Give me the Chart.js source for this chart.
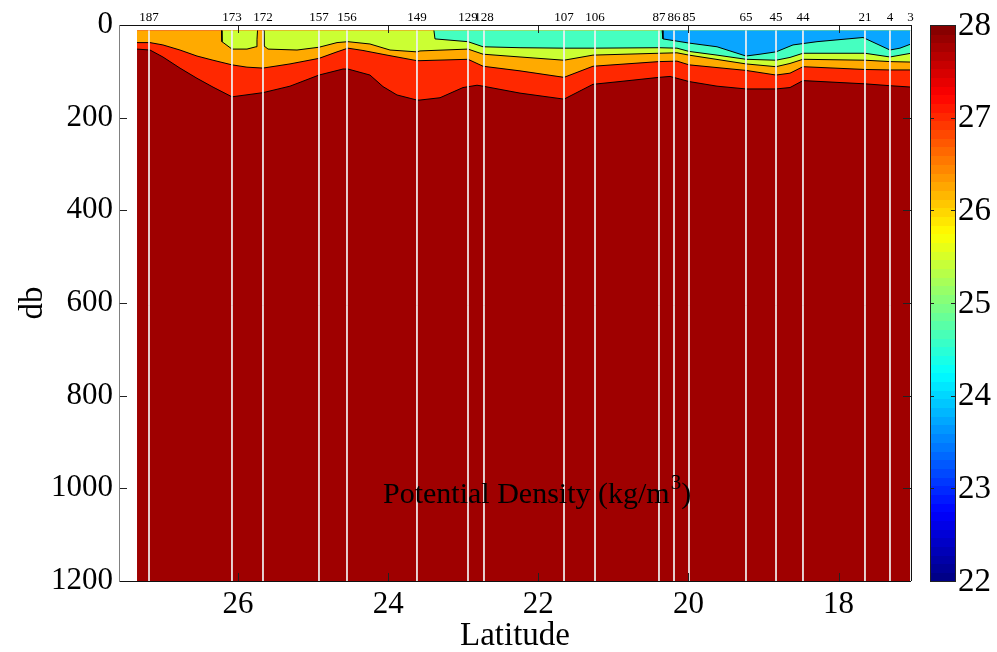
<!DOCTYPE html>
<html>
<head>
<meta charset="utf-8">
<script src="https://cdn.jsdelivr.net/npm/chart.js@4.4.1/dist/chart.umd.min.js"></script>
<style>
  body { margin: 0; background: #fff; }
  canvas { display: block; }
</style>
</head>
<body>
<canvas id="densityChart" width="997" height="652"></canvas>
<script>
// ================= DATA =================
const stationLabels = ["187", "173", "172", "157", "156", "149", "129", "128", "107", "106",
  "87", "86", "85", "65", "45", "44", "21", "4", "3"];
const stationLats = [27.185, 26.08, 25.667, 24.921, 24.548, 23.616, 22.936, 22.723, 21.657, 21.244,
  20.392, 20.192, 19.992, 19.233, 18.833, 18.474, 17.648, 17.315, 17.04];

const xTicks = [26, 24, 22, 20, 18];
const yTicks = [0, 200, 400, 600, 800, 1000, 1200];
const colorbarTicks = [22, 23, 24, 25, 26, 27, 28];

const sectionLats = [27.345, 17.035];
const surfaceDb = 12;
const bottomDb = 1200;

// upper edge of the dark red band (~27.5)
const darkRedLat = [27.345, 27.172, 27.0, 26.773, 26.546, 26.333, 26.08, 25.667, 25.307, 24.921, 24.601,
  24.535, 24.242, 24.068, 23.882, 23.616, 23.576, 23.309, 23.003, 22.816, 22.736, 22.243, 21.657, 21.271,
  20.911, 20.392, 20.245, 19.992, 19.619, 19.233, 18.833, 18.647, 18.474, 17.648, 17.315, 17.035];
const darkRedDb = [52, 54, 69, 93, 115, 134, 155, 146, 132, 108, 95,
  95, 108, 133, 151, 162, 162, 157, 135, 130, 132, 147, 160, 128,
  122, 113, 111, 122, 132, 138, 138, 135, 120, 127, 131, 134];

// upper edge of the red band (~27)
const redLat = [27.345, 27.172, 27.0, 26.773, 26.546, 26.333, 26.08, 25.88, 25.667, 25.307, 24.921, 24.681,
  24.535, 24.335, 24.015, 23.616, 23.576, 22.936, 22.736, 22.243, 21.657, 21.271, 20.392, 20.152, 19.992,
  19.233, 18.833, 18.647, 18.474, 17.648, 17.315, 17.035];
const redDb = [38, 38, 43, 54, 67, 76, 86, 91, 93, 84, 72, 58,
  50, 55, 65, 77, 77, 74, 89, 99, 113, 89, 79, 78, 86,
  98, 108, 104, 90, 96, 97, 97];

// upper edge of the orange band (~26.5)
const orangeLat = [27.345, 26.22, 26.213, 26.08, 25.88, 25.76, 25.747, 25.74, 25.66, 25.654, 25.6, 25.214,
  24.921, 24.681, 24.535, 24.242, 23.975, 23.616, 23.576, 22.936, 22.736, 22.243, 21.657, 21.271, 20.392,
  20.152, 19.992, 19.233, 18.833, 18.647, 18.474, 17.648, 17.315, 17.035];
const orangeDb = [12, 12, 36, 52, 52, 47, 32, 12, 12, 45, 52, 54,
  48, 38, 36, 41, 54, 58, 56, 52, 63, 69, 76, 65, 61,
  60, 65, 84, 90, 83, 74, 76, 79, 80];

// upper edge of the yellow-green band (~25.5)
const greenLat = [27.345, 23.39, 23.376, 22.936, 22.736, 22.243, 21.657, 21.271, 20.392, 20.152, 19.992,
  19.619, 19.233, 18.833, 18.647, 18.474, 17.648, 17.315, 17.035];
const greenDb = [12, 12, 30, 36, 47, 49, 50, 50, 49, 50, 57,
  65, 74, 76, 70, 61, 61, 69, 61];

// upper edge of the aqua band (~24.5)
const aquaLat = [27.345, 20.35, 20.339, 19.992, 19.619, 19.233, 19.046, 18.833, 18.607, 18.287, 17.674,
  17.315, 17.182, 17.035];
const aquaDb = [12, 12, 30, 39, 47, 67, 63, 58, 43, 36, 27,
  54, 50, 41];

const bandColors = ["#0aa6ff", "#45ffc0", "#cbff33", "#ffaa00", "#ff2800", "#9f0000"];

// ================= HELPERS =================
function toPoints(lats, dbs) {
  return lats.map((lat, i) => ({ x: lat, y: dbs[i] }));
}

function jet(t) {
  const c = v => Math.round(255 * Math.max(0, Math.min(1, v)));
  return `rgb(${c(1.5 - Math.abs(4 * t - 3))},${c(1.5 - Math.abs(4 * t - 2))},${c(1.5 - Math.abs(4 * t - 1))})`;
}

function stationPoints() {
  const pts = [];
  stationLats.forEach(lat => {
    pts.push({ x: lat, y: surfaceDb }, { x: lat, y: bottomDb }, { x: lat, y: null });
  });
  return pts;
}

const hideSurface = {
  borderColor: c => (c.p0.parsed.y <= surfaceDb && c.p1.parsed.y <= surfaceDb) ? "rgba(0,0,0,0)" : undefined,
};

function band(lats, dbs, color) {
  return {
    data: toPoints(lats, dbs),
    borderColor: "#000",
    borderWidth: 1,
    backgroundColor: color,
    fill: { value: surfaceDb },
    segment: hideSurface,
  };
}

// ================= DECOR =================
const decorPlugin = {
  id: "decor",
  afterDraw(chart) {
    const { ctx, chartArea: a, scales } = chart;
    const x = scales.x, y = scales.y;
    ctx.save();

    const line = (x1, y1, x2, y2) => {
      ctx.beginPath(); ctx.moveTo(x1, y1); ctx.lineTo(x2, y2); ctx.stroke();
    };

    // inward ticks
    ctx.strokeStyle = "#222";
    ctx.lineWidth = 1;
    xTicks.forEach(v => {
      const px = Math.round(x.getPixelForValue(v)) + 0.5;
      line(px, a.bottom, px, a.bottom - 8);
      line(px, a.top, px, a.top + 8);
    });
    yTicks.forEach(v => {
      const py = Math.round(y.getPixelForValue(v)) + 0.5;
      line(a.left, py, a.left + 8, py);
      line(a.right, py, a.right - 8, py);
    });

    // frame
    ctx.strokeStyle = "#111";
    line(a.left, a.top + 0.5, a.right, a.top + 0.5);
    line(a.left, a.bottom + 0.5, a.right, a.bottom + 0.5);
    line(a.right + 0.5, a.top, a.right + 0.5, a.bottom);
    ctx.strokeStyle = "#808080";
    line(a.left + 0.5, a.top, a.left + 0.5, a.bottom + 1);

    // station numbers
    ctx.fillStyle = "#000";
    ctx.font = '13px "Liberation Serif"';
    ctx.textAlign = "center";
    ctx.textBaseline = "alphabetic";
    stationLabels.forEach((s, i) => {
      ctx.fillText(s, x.getPixelForValue(stationLats[i]), 21);
    });

    // in-plot title
    ctx.textAlign = "left";
    ctx.font = '30px "Liberation Serif"';
    const part1 = "Potential Density (kg/m";
    let tx = 383;
    ctx.fillText(part1, tx, 503);
    tx += ctx.measureText(part1).width;
    ctx.font = '21px "Liberation Serif"';
    ctx.fillText("3", tx + 1, 489);
    tx += ctx.measureText("3").width + 1;
    ctx.font = '30px "Liberation Serif"';
    ctx.fillText(")", tx, 503);

    // axis titles
    ctx.font = '33px "Liberation Serif"';
    ctx.textAlign = "center";
    ctx.fillText("Latitude", (a.left + a.right) / 2, 645);
    ctx.save();
    ctx.translate(42, (a.top + a.bottom) / 2);
    ctx.rotate(-Math.PI / 2);
    ctx.fillText("db", 0, 0);
    ctx.restore();

    // colorbar
    const cbLeft = a.right + 19, cbW = 25, h = a.bottom - a.top;
    const cMin = colorbarTicks[0], cMax = colorbarTicks[colorbarTicks.length - 1];
    const n = 64;
    for (let k = 0; k < n; k++) {
      ctx.fillStyle = jet((k + 0.5) / n);
      const y0 = a.bottom - (k + 1) / n * h;
      ctx.fillRect(cbLeft, Math.floor(y0), cbW, Math.ceil(h / n) + 1);
    }
    ctx.strokeStyle = "#222";
    ctx.strokeRect(cbLeft + 0.5, a.top + 0.5, cbW, h);
    ctx.fillStyle = "#000";
    ctx.font = '33px "Liberation Serif"';
    ctx.textAlign = "left";
    ctx.textBaseline = "middle";
    colorbarTicks.forEach(v => {
      const py = a.bottom - (v - cMin) / (cMax - cMin) * h;
      ctx.fillText(String(v), cbLeft + cbW + 3, py + 1);
      ctx.strokeStyle = "#222";
      line(cbLeft, Math.round(py) + 0.5, cbLeft + 4, Math.round(py) + 0.5);
      line(cbLeft + cbW, Math.round(py) + 0.5, cbLeft + cbW - 4, Math.round(py) + 0.5);
    });

    ctx.restore();
  },
};

// ================= CHART =================
Chart.defaults.font.family = "Liberation Serif";

const datasets = [
  {
    data: stationPoints(),
    borderColor: "rgba(240,240,240,0.95)",
    borderWidth: 1,
    fill: false,
    spanGaps: false,
  },
  band(aquaLat, aquaDb, bandColors[0]),
  band(greenLat, greenDb, bandColors[1]),
  band(orangeLat, orangeDb, bandColors[2]),
  band(redLat, redDb, bandColors[3]),
  band(darkRedLat, darkRedDb, bandColors[4]),
  {
    data: toPoints(sectionLats, [surfaceDb, surfaceDb]),
    borderWidth: 0,
    borderColor: "rgba(0,0,0,0)",
    backgroundColor: bandColors[5],
    fill: { value: bottomDb },
  },
];

const densityChart = new Chart(document.getElementById("densityChart").getContext("2d"), {
  type: "line",
  data: { datasets },
  options: {
    responsive: false,
    animation: false,
    layout: { padding: { left: 0, right: 86, top: 25, bottom: 0 } },
    plugins: { legend: { display: false }, tooltip: { enabled: false } },
    elements: { point: { radius: 0 }, line: { tension: 0 } },
    scales: {
      x: {
        type: "linear",
        reverse: true,
        min: 17.035,
        max: 27.585,
        afterFit: s => { s.height = 71; },
        afterBuildTicks: s => { s.ticks = xTicks.map(v => ({ value: v })); },
        grid: { display: false, drawTicks: false },
        border: { display: false },
        ticks: { color: "#000", font: { size: 31 }, padding: 5, maxRotation: 0, autoSkip: false,
          callback: v => String(v) },
      },
      y: {
        type: "linear",
        reverse: true,
        min: 0,
        max: 1200,
        afterFit: s => { s.width = 119; },
        afterBuildTicks: s => { s.ticks = yTicks.map(v => ({ value: v })); },
        grid: { display: false, drawTicks: false },
        border: { display: false },
        ticks: { color: "#000", font: { size: 31 }, padding: 6, autoSkip: false,
          callback: v => String(v) },
      },
    },
  },
  plugins: [decorPlugin],
});
</script>
</body>
</html>
